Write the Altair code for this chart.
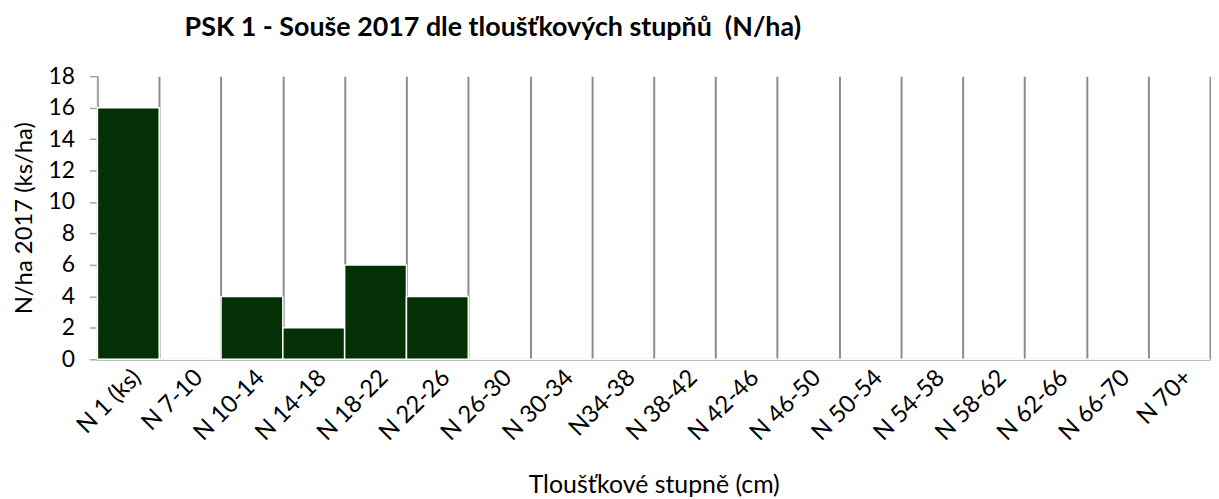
import altair as alt
import pandas as pd

categories = ["N 1 (ks)", "N 7-10", "N 10-14", "N 14-18", "N 18-22", "N 22-26",
              "N 26-30", "N 30-34", "N34-38", "N 38-42", "N 42-46", "N 46-50",
              "N 50-54", "N 54-58", "N 58-62", "N 62-66", "N 66-70", "N 70+"]
values = [16, 0, 4, 2, 6, 4, 0, 0, 0, 0, 0, 0, 0, 0, 0, 0, 0, 0]

df = pd.DataFrame({"cat": categories, "val": values})

FONT = "Lato"

chart = alt.Chart(df).mark_bar(
    color="#033004", stroke="white", strokeWidth=1.5
).encode(
    x=alt.X("cat:N", sort=categories,
            scale=alt.Scale(paddingInner=0, paddingOuter=0),
            axis=alt.Axis(title="Tloušťkové stupně (cm)", labelAngle=-45,
                          labelFontSize=24, labelColor="black", labelFont=FONT,
                          titleFontSize=25, titleFont=FONT, titleFontWeight="normal",
                          titleColor="black", titlePadding=28,
                          grid=True, gridColor="#8c8c8c", gridWidth=2,
                          tickBand="extent", ticks=False,
                          domainColor="#a6a6a6", domainWidth=2, labelPadding=6)),
    y=alt.Y("val:Q", scale=alt.Scale(domain=[0, 18]),
            axis=alt.Axis(title="N/ha 2017 (ks/ha)", values=list(range(0, 19, 2)),
                          grid=False, labelFontSize=23, labelColor="black",
                          labelFont=FONT, titleFontSize=24, titleFont=FONT,
                          titleFontWeight="normal", titleColor="black",
                          domainColor="#a6a6a6", domainWidth=2,
                          tickColor="#a6a6a6", tickSize=8, tickWidth=1.5,
                          labelPadding=15, titlePadding=12)),
).properties(
    width=1120, height=285,
    title=alt.TitleParams("PSK 1 - Souše 2017 dle tloušťkových stupňů\u00a0\u00a0(N/ha)",
                          anchor="middle", dx=-162, fontSize=27, font=FONT,
                          fontWeight="bold", color="black", offset=23),
    padding={"left": 4, "top": 5, "right": 0, "bottom": 0},
).configure_view(stroke=None)

chart.save("out.html", embed_options={"renderer": "svg", "actions": False})
